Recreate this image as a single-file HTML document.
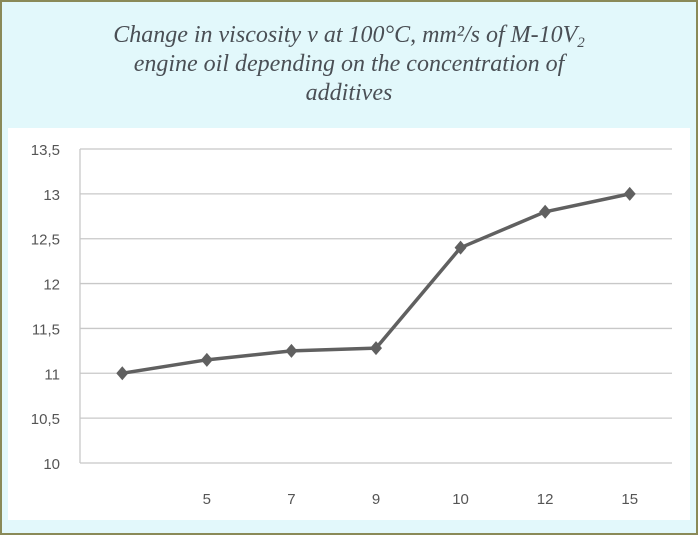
<!DOCTYPE html>
<html><head><meta charset="utf-8"><style>
body{margin:0;width:698px;height:535px;overflow:hidden;background:#fff}
#frame{position:absolute;left:0;top:0;width:694px;height:531px;border:2px solid #8a8a58;background:#e2f8fb}
#title{position:absolute;left:0;top:21px;width:698px;text-align:center;font-family:"Liberation Serif",serif;font-style:italic;font-size:24px;line-height:29px;color:#4a4f55}
#title sub{font-size:15px;line-height:0;vertical-align:-5px}
#chart{position:absolute;left:0;top:0}
</style></head><body>
<div id="frame"></div>
<svg id="chart" width="698" height="535"></svg>
<div id="title">Change in viscosity v at 100°C, mm²/s of M-10V<sub>2</sub><br>engine oil depending on the concentration of<br>additives</div>
<script>
const categories=["","5","7","9","10","12","15"];
const values=[11,11.15,11.25,11.28,12.4,12.8,13.0];
const yTicks=[10,10.5,11,11.5,12,12.5,13,13.5];
const yTickLabels=["10","10,5","11","11,5","12","12,5","13","13,5"];
const NS="http://www.w3.org/2000/svg";
const svg=document.getElementById('chart');
const x0=80,x1=672,y0=463,y1=149,ymin=10,ymax=13.5;
const band=(x1-x0)/categories.length;
const xs=i=>x0+band*(i+0.5);
const ys=v=>y0-(v-ymin)/(ymax-ymin)*(y0-y1);
function mk(t,a){const e=document.createElementNS(NS,t);for(const k in a)e.setAttribute(k,a[k]);svg.appendChild(e);return e;}
const bg=mk('rect',{x:8,y:128,width:682,height:392,fill:'#fff'});


yTicks.forEach((v,i)=>{
  const g=mk('line',{x1:x0,x2:x1,y1:ys(v),y2:ys(v),stroke:'#c8c8c8','stroke-width':1.3});
  
  
  const t=mk('text',{x:60,y:ys(v)+6,'text-anchor':'end','font-family':'Liberation Sans, sans-serif','font-size':15,fill:'#555'});
  t.textContent=yTickLabels[i];
  
  
});
const ax=mk('line',{x1:x0,x2:x0,y1:y1,y2:y0,stroke:'#c8c8c8','stroke-width':1.3});


categories.forEach((c,i)=>{
  const t=mk('text',{x:xs(i),y:504,'text-anchor':'middle','font-family':'Liberation Sans, sans-serif','font-size':15,fill:'#555'});
  t.textContent=c;
  
  
});
const pts=values.map((v,i)=>xs(i)+','+ys(v)).join(' ');
const line=mk('polyline',{points:pts,fill:'none',stroke:'#606060','stroke-width':3.5,'stroke-linejoin':'round'});


values.forEach((v,i)=>{
  const x=xs(i),y=ys(v);
  const m=mk('polygon',{points:`${x},${y-7} ${x+6},${y} ${x},${y+7} ${x-6},${y}`,fill:'#606060'});
  
  
});
</script>
</body></html>
